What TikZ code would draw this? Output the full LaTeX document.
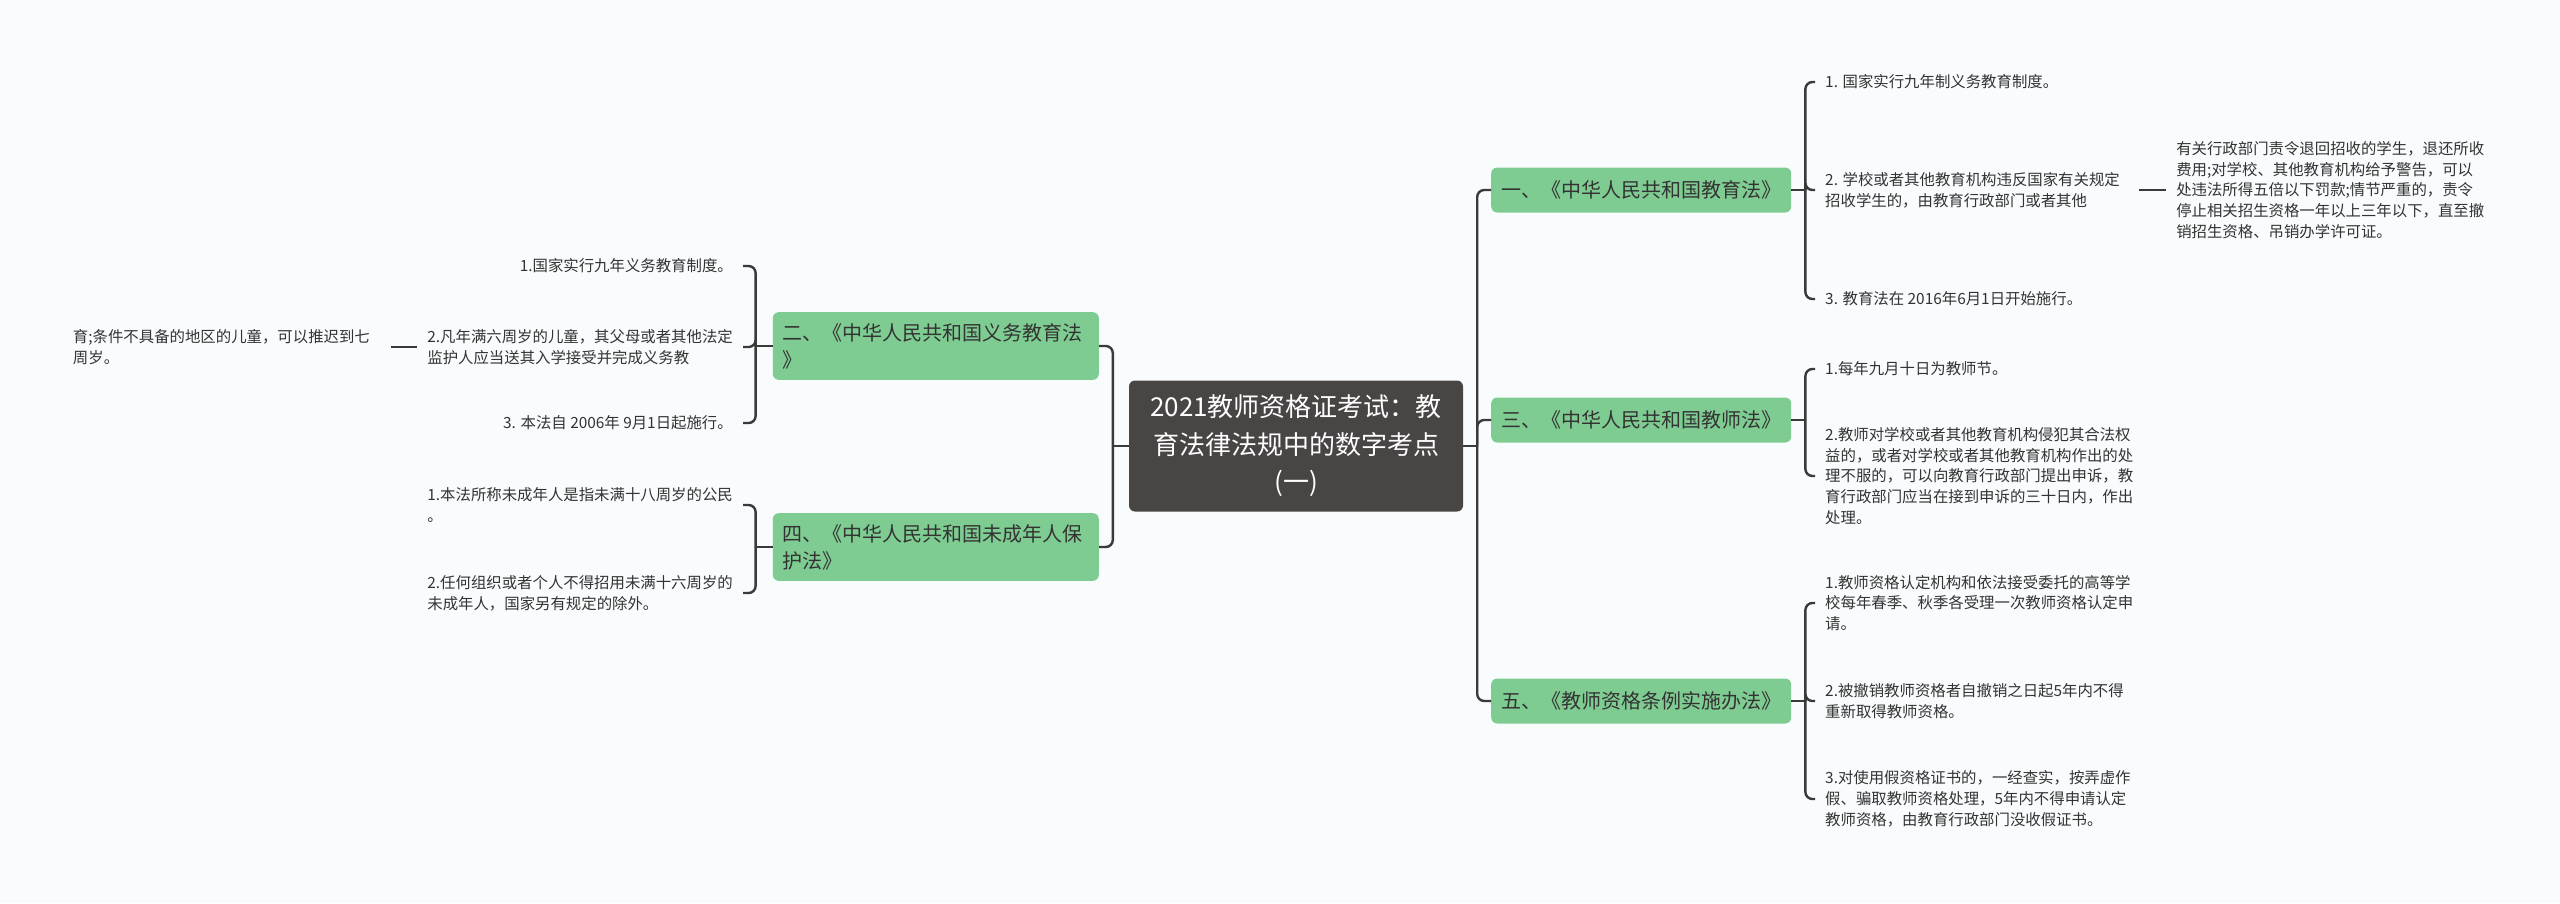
\documentclass[tikz,border=0pt]{standalone}
\usepackage{fontspec}
\setmainfont{Noto Sans CJK SC}
\usetikzlibrary{positioning}

\definecolor{bg}{RGB}{248,252,253}
\definecolor{rootgray}{RGB}{74,69,69}
\definecolor{branchgreen}{RGB}{127,204,146}
\definecolor{linkgray}{RGB}{58,58,58}
\definecolor{txt}{RGB}{51,51,51}

\begin{document}
\begin{tikzpicture}[x=1pt,y=-1pt,
  root/.style={fill=rootgray, text=white, rounded corners=6pt, align=center,
    minimum width=334pt, minimum height=131pt, font=\fontsize{26}{37.5}\selectfont},
  branch/.style={fill=branchgreen, text=txt, rounded corners=6pt, align=left,
    inner xsep=10pt, inner ysep=11pt, minimum height=45pt, font=\fontsize{20}{27}\selectfont},
  leaf/.style={text=txt, align=left, inner xsep=10pt, inner ysep=2pt,
    font=\fontsize{15.4}{20.8}\selectfont},
  link/.style={draw=linkgray, line width=2.4pt, rounded corners=7pt}]

\fill[bg] (0,0) rectangle (2560,903);
\useasboundingbox (0,0) rectangle (2560,903);

\node[root] (root) at (1296,446) {2021教师资格证考试：教\\育法律法规中的数字考点\\(一)};

% right side
\node[branch, anchor=west] (yi) at (1491,190) {一、《中华人民共和国教育法》};
\node[branch, anchor=west] (san) at (1491,420) {三、《中华人民共和国教师法》};
\node[branch, anchor=west] (wu) at (1491,701) {五、《教师资格条例实施办法》};

\node[leaf, anchor=west] (yi1) at (1815,82) {1. 国家实行九年制义务教育制度。};
\node[leaf, anchor=west] (yi2) at (1815,190) {2. 学校或者其他教育机构违反国家有关规定\\招收学生的，由教育行政部门或者其他};
\node[leaf, anchor=west] (yi3) at (1815,299) {3. 教育法在 2016年6月1日开始施行。};
\node[leaf, right=36pt of yi2] (yi2x) {有关行政部门责令退回招收的学生，退还所收\\费用;对学校、其他教育机构给予警告，可以\\处违法所得五倍以下罚款;情节严重的，责令\\停止相关招生资格一年以上三年以下，直至撤\\销招生资格、吊销办学许可证。};

\node[leaf, anchor=west] (san1) at (1815,369) {1.每年九月十日为教师节。};
\node[leaf, anchor=west] (san2) at (1815,476) {2.教师对学校或者其他教育机构侵犯其合法权\\益的，或者对学校或者其他教育机构作出的处\\理不服的，可以向教育行政部门提出申诉，教\\育行政部门应当在接到申诉的三十日内，作出\\处理。};

\node[leaf, anchor=west] (wu1) at (1815,603) {1.教师资格认定机构和依法接受委托的高等学\\校每年春季、秋季各受理一次教师资格认定申\\请。};
\node[leaf, anchor=west] (wu2) at (1815,701) {2.被撤销教师资格者自撤销之日起5年内不得\\重新取得教师资格。};
\node[leaf, anchor=west] (wu3) at (1815,799) {3.对使用假资格证书的，一经查实，按弄虚作\\假、骗取教师资格处理，5年内不得申请认定\\教师资格，由教育行政部门没收假证书。};

% left side
\node[branch, anchor=east, text width=306pt] (er) at (1099,346) {二、《中华人民共和国义务教育法\\》};
\node[branch, anchor=east, text width=306pt] (si) at (1099,547) {四、《中华人民共和国未成年人保\\护法》};

\node[leaf, anchor=east] (er1) at (743,266) {1.国家实行九年义务教育制度。};
\node[leaf, anchor=east] (er2) at (743,347) {2.凡年满六周岁的儿童，其父母或者其他法定\\监护人应当送其入学接受并完成义务教};
\node[leaf, anchor=east] (er3) at (743,423) {3. 本法自 2006年 9月1日起施行。};
\node[leaf, left=26pt of er2, text width=308pt] (er2x) {育;条件不具备的地区的儿童，可以推迟到七\\周岁。};

\node[leaf, anchor=east] (si1) at (743,505) {1.本法所称未成年人是指未满十八周岁的公民\\。};
\node[leaf, anchor=east] (si2) at (743,593) {2.任何组织或者个人不得招用未满十六周岁的\\未成年人，国家另有规定的除外。};

% trunks
\path (root.east) ++(14,0) coordinate (rj);
\draw[link] (root.east) -- (rj);
\foreach \b in {yi,san,wu} \draw[link] (rj) |- (\b.west);

\path (root.west) ++(-16,0) coordinate (lj);
\draw[link] (root.west) -- (lj);
\foreach \b in {er,si} \draw[link] (lj) |- (\b.east);

% brackets
\path (yi.east) ++(14,0) coordinate (yij);
\draw[link] (yi.east) -- (yij);
\foreach \l in {yi1,yi2,yi3} \draw[link] (yij) |- (\l.west);
\draw[link, shorten <=9pt] (yi2.east) -- (yi2x.west);

\path (san.east) ++(14,0) coordinate (sanj);
\draw[link] (san.east) -- (sanj);
\foreach \l in {san1,san2} \draw[link] (sanj) |- (\l.west);

\path (wu.east) ++(14,0) coordinate (wuj);
\draw[link] (wu.east) -- (wuj);
\foreach \l in {wu1,wu2,wu3} \draw[link] (wuj) |- (\l.west);

\path (er.west) ++(-17,0) coordinate (erj);
\draw[link] (er.west) -- (erj);
\foreach \l in {er1,er2,er3} \draw[link] (erj) |- (\l.east);
\draw[link] (er2.west) -- (er2x.east);

\path (si.west) ++(-17,0) coordinate (sij);
\draw[link] (si.west) -- (sij);
\foreach \l in {si1,si2} \draw[link] (sij) |- (\l.east);

\end{tikzpicture}
\end{document}
